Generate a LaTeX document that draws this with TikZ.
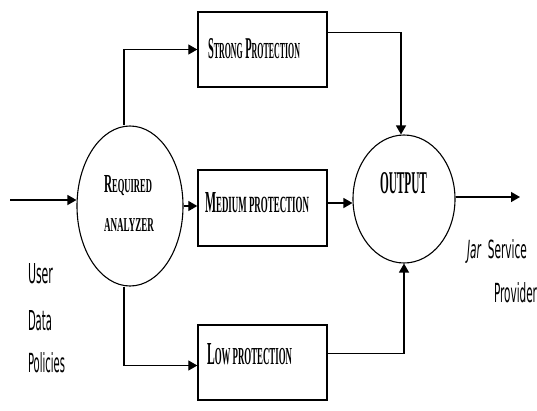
\documentclass[tikz,border=0pt]{standalone}
\usepackage{fontspec}
\usepackage{graphicx}
\setmainfont{Liberation Serif}
\setsansfont{DejaVu Sans}
\usetikzlibrary{shapes.geometric,arrows.meta}
\newcommand{\smc}[1]{{\fontsize{7.6}{8}\selectfont #1}}
\newcommand{\fitbox}[3]{\resizebox{#1pt}{#2pt}{#3}}
\tikzset{
  blk/.style={draw, line width=1.4pt, rectangle, minimum width=129pt, inner sep=0pt},
  circ/.style={draw, line width=1.1pt, ellipse, inner sep=0pt},
  lbl/.style={anchor=north west, inner sep=0pt, outer sep=0pt},
  arr/.style={line width=1.3pt, -{Triangle[length=9pt,width=10pt]}},
}
\begin{document}
\begin{tikzpicture}[x=1pt,y=-1pt]
\useasboundingbox (0,0) rectangle (537,410);
\fill[white] (0,0) rectangle (537,410);
% shapes
\node[circ, minimum width=106pt, minimum height=160pt] (ra) at (130,206) {};
\node[circ, minimum width=102pt, minimum height=128pt] (out) at (404,199) {};
\node[blk, minimum height=75pt] (strong) at (262.5,49.5) {};
\node[blk, minimum height=76pt] (medium) at (262.5,208) {};
\node[blk, minimum height=75pt] (low) at (262.5,362.5) {};
% labels
\node[lbl] (tstrong) at (208,38) {\fitbox{92}{20}{\bfseries S\smc{TRONG} P\smc{ROTECTION}}};
\node[lbl] (tmedium) at (205,192) {\fitbox{104}{20}{\bfseries M\smc{EDIUM PROTECTION}}};
\node[lbl] (tlow) at (207,343) {\fitbox{85}{21}{\bfseries L\smc{OW PROTECTION}}};
\node[lbl] (treq) at (104,175) {\fitbox{48}{17}{\bfseries R\smc{EQUIRED}}};
\node[lbl] (tana) at (104,218) {\fitbox{50}{13}{\bfseries\smc{ANALYZER}}};
\node[lbl] (tout) at (380,172) {\fitbox{47}{21}{\bfseries OUTPUT}};
\node[lbl] (tuser) at (28,263) {\fitbox{25}{20}{\sffamily User}};
\node[lbl] (tdata) at (28,310) {\fitbox{24}{20}{\sffamily Data}};
\node[lbl] (tpol) at (28,352) {\fitbox{37}{20}{\sffamily Policies}};
\node[lbl] (tjar) at (467,239) {\fitbox{60}{19}{\sffamily\textit{Jar}\hspace{0.6em}Service}};
\node[lbl] (tprov) at (494,282) {\fitbox{43}{20}{\sffamily Provider}};
% connectors
\coordinate (inL) at (10,200);
\coordinate (outR) at (520,197);
\draw[arr] (inL) -- (inL -| ra.west);
\draw[arr] ([xshift=-6pt]ra.north) |- (strong.west);
\draw[arr] (ra.east) -- (ra.east -| medium.west);
\draw[arr] ([xshift=-6pt]ra.south) |- ([yshift=-3pt]low.west);
\draw[arr] ([yshift=17pt]strong.east) -| ([xshift=-3pt]out.north);
\draw[arr] ([yshift=5pt]medium.east) -- ([yshift=5pt]medium.east -| out.west);
\draw[arr] ([yshift=9pt]low.east) -| (out.south);
\draw[arr] (out.east |- outR) -- (outR);
\end{tikzpicture}
\end{document}
